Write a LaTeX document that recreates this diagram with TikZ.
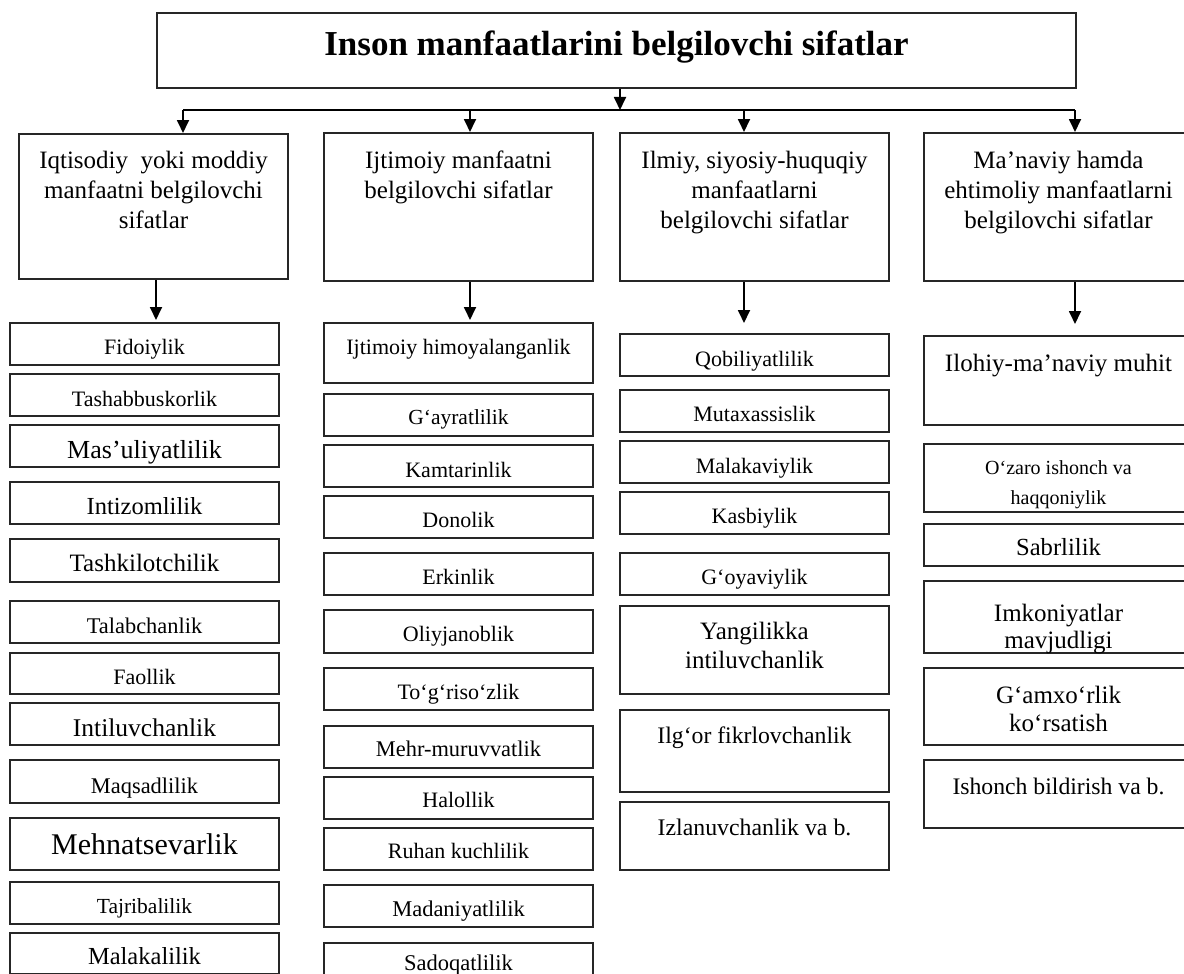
\documentclass[tikz,border=0pt]{standalone}
\usepackage{fontspec}
\setmainfont{Liberation Serif}
\usetikzlibrary{arrows.meta}

\tikzset{
  box/.style={draw=black!85, line width=2pt, anchor=north west, inner sep=0pt,
    align=center, minimum width=269pt},
  hb/.style 2 args={text height=#1pt, text depth=#2pt},
  fs/.style={font=\fontsize{#1}{30}\selectfont},
  arr/.style={line width=1.8pt, -{Triangle[length=13pt,width=12pt]}},
}

\begin{document}
\begin{tikzpicture}[x=1pt, y=-1pt]
\useasboundingbox (0,0) rectangle (1184,974);

% title
\node[box, minimum width=919pt, hb={43}{32}, font=\fontsize{35}{40}\selectfont\bfseries] (title) at (156,12) {Inson manfaatlarini belgilovchi sifatlar};

% four groups (text height counts down to the last line)
\node[box, hb={94}{51}, fs=25] (iqt) at (18,133) {Iqtisodiy\ \ yoki moddiy\\manfaatni belgilovchi\\sifatlar};
\node[box, hb={65}{83}, fs=25] (ijt) at (323,132) {Ijtimoiy manfaatni\\belgilovchi sifatlar};
\node[box, hb={95}{53}, fs=25] (ilm) at (619,132) {Ilmiy, siyosiy-huquqiy\\manfaatlarni\\belgilovchi sifatlar};
\node[box, hb={95}{53}, fs=25] (man) at (923,132) {Ma’naviy hamda\\ehtimoliy manfaatlarni\\belgilovchi sifatlar};

% column 1
\node[box, hb={31}{11}, fs=22] (fid) at (9,322) {Fidoiylik};
\node[box, hb={32}{10}, fs=22] (tash) at (9,373) {Tashabbuskorlik};
\node[box, hb={33}{9}, fs=26] (masu) at (9,424) {Mas’uliyatlilik};
\node[box, hb={32}{10}, fs=24.5] (intz) at (9,481) {Intizomlilik};
\node[box, hb={32}{11}, fs=25] (tshk) at (9,538) {Tashkilotchilik};
\node[box, hb={32}{10}, fs=22.4] (talb) at (9,600) {Talabchanlik};
\node[box, hb={31}{10}, fs=22] (faol) at (9,652) {Faollik};
\node[box, hb={33}{9}, fs=25.5] (intl) at (9,702) {Intiluvchanlik};
\node[box, hb={33}{10}, fs=22.4] (maqs) at (9,759) {Maqsadlilik};
\node[box, hb={36}{16}, fs=30] (mehn) at (9,817) {Mehnatsevarlik};
\node[box, hb={31}{11}, fs=21.5] (tajr) at (9,881) {Tajribalilik};
\node[box, hb={31}{10}, fs=24.5] (malk) at (9,932) {Malakalilik};

% column 2
\node[box, hb={31}{29}, fs=22] (himo) at (323,322) {Ijtimoiy himoyalanganlik};
\node[box, hb={30}{12}, fs=21.5] (gayr) at (323,393) {G‘ayratlilik};
\node[box, hb={32}{10}, fs=22] (kamt) at (323,444) {Kamtarinlik};
\node[box, hb={31}{11}, fs=22] (dono) at (323,495) {Donolik};
\node[box, hb={31}{11}, fs=22] (erkn) at (323,552) {Erkinlik};
\node[box, hb={31}{12}, fs=22] (oliy) at (323,609) {Oliyjanoblik};
\node[box, hb={31}{11}, fs=22] (togr) at (323,667) {To‘g‘riso‘zlik};
\node[box, hb={30}{12}, fs=22.4] (mehr) at (323,725) {Mehr-muruvvatlik};
\node[box, hb={30}{12}, fs=22] (halo) at (323,776) {Halollik};
\node[box, hb={30}{12}, fs=22] (ruhn) at (323,827) {Ruhan kuchlilik};
\node[box, hb={31}{11}, fs=22.5] (madn) at (323,884) {Madaniyatlilik};
\node[box, hb={27}{15}, fs=22.5] (sadq) at (323,942) {Sadoqatlilik};

% column 3
\node[box, hb={32}{10}, fs=22] (qobl) at (619,333) {Qobiliyatlilik};
\node[box, hb={31}{11}, fs=22] (mutx) at (619,389) {Mutaxassislik};
\node[box, hb={32}{10}, fs=22] (malv) at (619,440) {Malakaviylik};
\node[box, hb={31}{11}, fs=22] (kasb) at (619,491) {Kasbiylik};
\node[box, hb={31}{11}, fs=22] (goya) at (619,552) {G‘oyaviylik};
\node[box, hb={62}{26}, font=\fontsize{25}{29}\selectfont] (yang) at (619,605) {Yangilikka\\intiluvchanlik};
\node[box, hb={33}{49}, fs=23.7] (ilgr) at (619,709) {Ilg‘or fikrlovchanlik};
\node[box, hb={33}{35}, fs=23.8] (izla) at (619,801) {Izlanuvchanlik va b.};

% column 4
\node[box, hb={35}{54}, fs=25] (iloh) at (923,335) {Ilohiy-ma’naviy muhit};
\node[box, hb={60}{8}, fs=20] (ozar) at (923,443) {O‘zaro ishonch va\\haqqoniylik};
\node[box, hb={31}{11}, fs=24.6] (sabr) at (923,523) {Sabrlilik};
\node[box, hb={67}{5}, font=\fontsize{25}{27}\selectfont] (imko) at (923,580) {Imkoniyatlar\\mavjudligi};
\node[box, hb={63}{14}, font=\fontsize{25}{28}\selectfont] (gamx) at (923,667) {G‘amxo‘rlik\\ko‘rsatish};
\node[box, hb={34}{34}, fs=23.7] (ishb) at (923,759) {Ishonch bildirish va b.};

% connectors
\coordinate (hub) at (620,110);
\coordinate (c1) at (183,110);
\coordinate (c2) at (470,110);
\coordinate (c3) at (744,110);
\coordinate (c4) at (1075,110);
\draw[arr] (title.south -| hub) -- (hub);
\draw[line width=1.8pt] (c1) -- (c4);
\draw[arr] (c1) -- (c1 |- iqt.north);
\draw[arr] (c2) -- (c2 |- ijt.north);
\draw[arr] (c3) -- (c3 |- ilm.north);
\draw[arr] (c4) -- (c4 |- man.north);

\coordinate (d1) at (156,320);
\coordinate (d2) at (470,320);
\coordinate (d3) at (744,323);
\coordinate (d4) at (1075,324);
\draw[arr] (iqt.south -| d1) -- (d1);
\draw[arr] (ijt.south -| d2) -- (d2);
\draw[arr] (ilm.south -| d3) -- (d3);
\draw[arr] (man.south -| d4) -- (d4);
\end{tikzpicture}
\end{document}
